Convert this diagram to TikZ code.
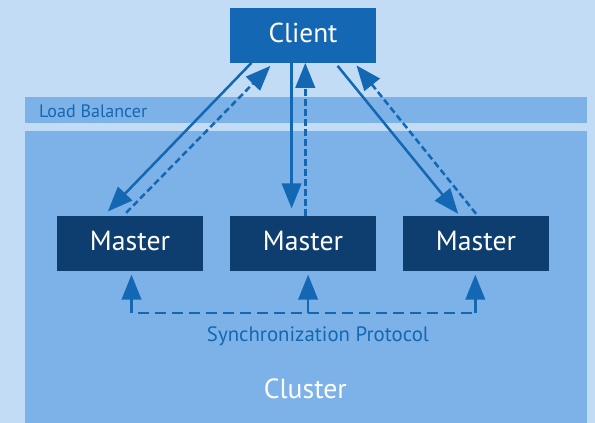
\documentclass[tikz,border=0pt]{standalone}
\usepackage{graphicx}
\usepackage{fontspec}
\setmainfont{PT Sans}
\usetikzlibrary{arrows.meta}
\definecolor{bgblue}{HTML}{C1DCF4}
\definecolor{bandblue}{HTML}{7CB2E7}
\definecolor{midblue}{HTML}{1467B3}
\definecolor{darkblue}{HTML}{0D3E6F}
% text scaled to a fixed printed width
\newcommand{\fitw}[2]{\resizebox{#1}{!}{#2}}
\tikzset{
  box/.style={draw=none,inner sep=0pt,minimum width=146pt,minimum height=54.7pt,text=white,font=\fontsize{26}{26}\selectfont},
  clientbox/.style={box,fill=midblue,text height=18.7pt,text depth=3.9pt},
  masterbox/.style={box,fill=darkblue,text height=18.3pt,text depth=4.9pt},
  tip/.style={-{Triangle[length=25pt,width=19.5pt]}},
  flow/.style={draw=midblue,line width=2.5pt,tip},
  reply/.style={flow,dash pattern=on 6.5pt off 3.5pt},
  syncline/.style={draw=midblue,line width=2.5pt,dash pattern=on 10.5pt off 6.5pt,dash phase=10.5pt},
  plain/.style={inner sep=0pt,anchor=base,font=\fontsize{20}{20}\selectfont}
}
\begin{document}
\begin{tikzpicture}[x=1pt,y=-1pt]
  % canvas
  \fill[bgblue] (0,0) rectangle (595,423);
  \useasboundingbox (0,0) rectangle (595,423);
  % load balancer band and cluster area
  \fill[bandblue] (25,96.7) rectangle (586.7,122.7);
  \fill[bandblue] (25,131) rectangle (586.7,423);
  \node[plain,anchor=base west,text=midblue] (lb) at (39,117.7) {\fitw{108pt}{Load Balancer}};

  % nodes
  \node[clientbox] (client) at (303,35.35) {\fitw{69pt}{Client}};
  \node[masterbox] (m1) at (130,243.35) {\fitw{80pt}{Master}};
  \node[masterbox] (m2) at (303,243.35) {\fitw{80pt}{Master}};
  \node[masterbox] (m3) at (476,243.35) {\fitw{80pt}{Master}};

  % requests from the client
  \draw[flow] ([xshift=21.6pt]client.south west) -- ([xshift=51pt,yshift=4.3pt]m1.north west);
  \draw[flow] ([xshift=61.8pt]client.south west) -- ([xshift=61.8pt,yshift=7.4pt]m2.north west);
  \draw[flow] ([xshift=107.8pt,yshift=-3pt]client.south west) -- ([xshift=55.4pt,yshift=2pt]m3.north west);
  % replies back to the client
  \draw[reply] ([xshift=69.4pt,yshift=3pt]m1.north west) -- ([xshift=40.6pt,yshift=-3pt]client.south west);
  \draw[reply] ([xshift=75.5pt]m2.north west) -- ([xshift=75.5pt]client.south west);
  \draw[reply] ([xshift=73.3pt,yshift=2pt]m3.north west) -- ([xshift=126.7pt,yshift=-2.5pt]client.south west);

  % synchronization among masters
  \coordinate (b1) at ([xshift=74.7pt,yshift=-42.3pt]m1.south west);
  \coordinate (b2) at ([xshift=78.3pt,yshift=-42.3pt]m2.south west);
  \coordinate (b3) at ([xshift=72.5pt,yshift=-42.3pt]m3.south west);
  \draw[syncline] (b1) -- (b3);
  \draw[flow] (b1) -- ([xshift=74.7pt,yshift=-3.8pt]m1.south west);
  \draw[flow] (b2) -- ([xshift=78.3pt,yshift=-3.8pt]m2.south west);
  \draw[flow] (b3) -- ([xshift=72.5pt,yshift=-3.8pt]m3.south west);
  \node[plain,text=midblue] (sync) at (318,341.7) {\fitw{222pt}{Synchronization Protocol}};

  \node[plain,text=white] (cluster) at (305.3,398.3) {\fitw{83pt}{Cluster}};
\end{tikzpicture}
\end{document}
